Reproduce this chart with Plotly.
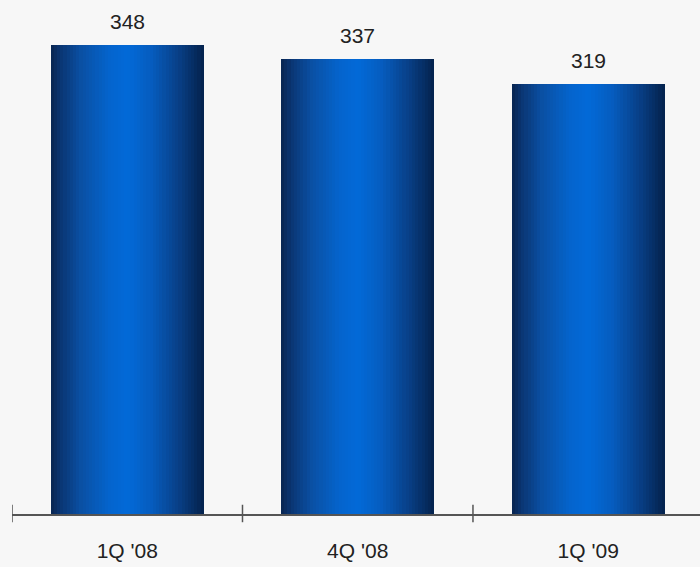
import plotly.graph_objects as go

# Quarterly values
quarters = ["1Q '08", "4Q '08", "1Q '09"]
values = [348, 337, 319]

BAR_WIDTH = 0.665
N_SLICES = 48

# Horizontal shading profile across each bar: (position 0..1, rgb)
profile = [
    (0.00, (8, 36, 80)),
    (0.07, (10, 54, 116)),
    (0.20, (10, 80, 164)),
    (0.38, (4, 100, 204)),
    (0.50, (2, 106, 216)),
    (0.66, (6, 92, 190)),
    (0.84, (8, 62, 132)),
    (1.00, (4, 34, 76)),
]


def shade(t):
    for (t0, c0), (t1, c1) in zip(profile, profile[1:]):
        if t <= t1:
            f = (t - t0) / (t1 - t0) if t1 > t0 else 0
            r, g, b = (round(a + (bb - a) * f) for a, bb in zip(c0, c1))
            return f"rgb({r},{g},{b})"
    r, g, b = profile[-1][1]
    return f"rgb({r},{g},{b})"


fig = go.Figure()
step = BAR_WIDTH / N_SLICES
for i in range(N_SLICES):
    t = (i + 0.5) / N_SLICES
    fig.add_trace(go.Bar(
        x=quarters,
        y=values,
        width=step * 1.3 if i < N_SLICES - 1 else step,
        offset=-BAR_WIDTH / 2 + i * step,
        marker=dict(color=shade(t), line=dict(width=0)),
        hoverinfo="skip",
        showlegend=False,
    ))

# Value labels above the bars
for q, v in zip(quarters, values):
    fig.add_annotation(
        x=q, y=v, text=str(v), showarrow=False, yanchor="bottom", yshift=10,
        font=dict(family="Liberation Sans, Arial, sans-serif", size=21, color="#222222"),
    )

# Category-boundary ticks that cross the axis line
for k in range(len(quarters)):
    fig.add_shape(
        type="line", xref="x", yref="y domain",
        x0=k - 0.5, x1=k - 0.5, y0=-0.016, y1=0.018,
        line=dict(color="#555555", width=1.5),
    )

x_range = [-0.5, 2.485]

fig.update_layout(
    width=700,
    height=567,
    margin=dict(l=12, r=0, t=0, b=53, autoexpand=False),
    paper_bgcolor="#f7f7f7",
    plot_bgcolor="#f7f7f7",
    barmode="overlay",
    bargap=0,
    xaxis=dict(
        type="category",
        range=x_range,
        automargin=False,
        showline=True,
        linecolor="#555555",
        linewidth=1.5,
        showgrid=False,
        zeroline=False,
        ticks="",
        ticklabelstandoff=17,
        tickfont=dict(family="Liberation Sans, Arial, sans-serif", size=21, color="#222222"),
    ),
    yaxis=dict(
        range=[0, 381],
        visible=False,
        showgrid=False,
        zeroline=False,
    ),
)

fig.write_html("out.html")
